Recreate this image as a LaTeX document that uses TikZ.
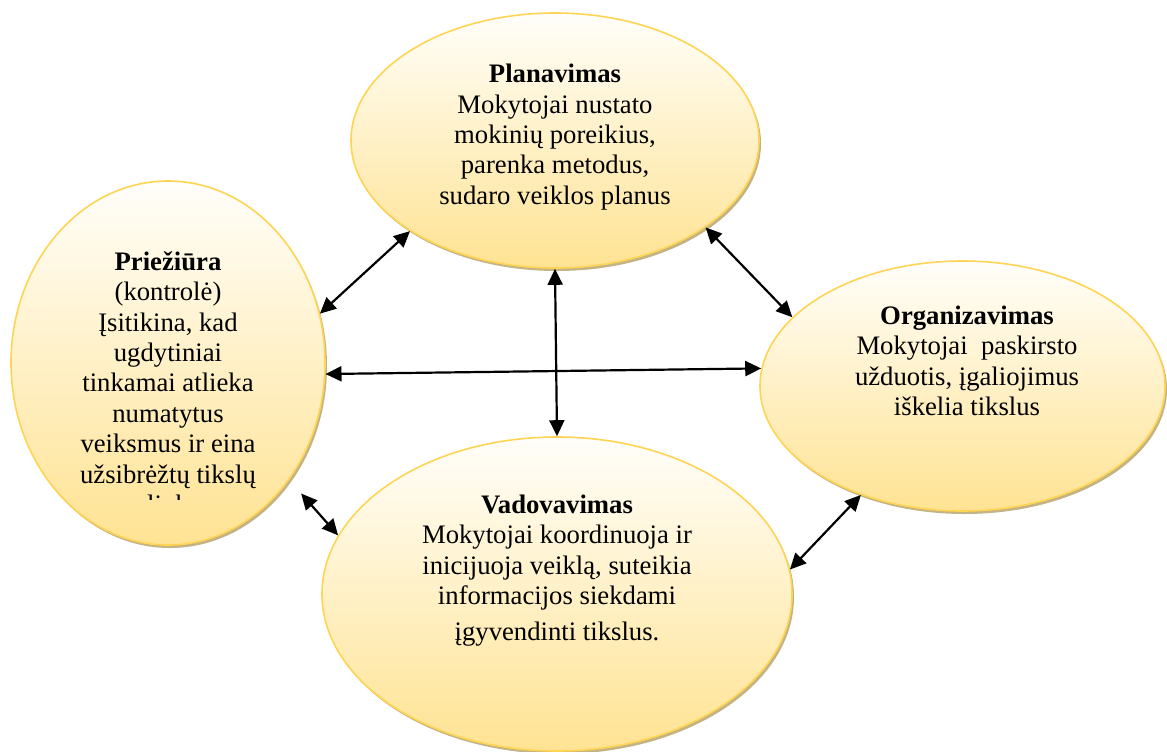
\documentclass[tikz,border=0pt]{standalone}
\usepackage{fontspec}
\setmainfont{Liberation Serif}
\usetikzlibrary{shapes.geometric,shadows,arrows.meta}
\definecolor{ytop}{HTML}{FFFEFA}
\definecolor{ybot}{HTML}{FFE393}
\definecolor{yedge}{HTML}{FFD452}
\definecolor{shad}{HTML}{C3B385}
\tikzset{
 ell/.style={ellipse, inner sep=0pt, draw=yedge, line width=0.8pt, top color=ytop, bottom color=ybot,
   drop shadow={shadow xshift=1pt, shadow yshift=-1.5pt, fill=shad, opacity=1}},
 txt/.style={align=center, font=\fontsize{13.35pt}{15.2pt}\selectfont, inner sep=0pt},
 dbl/.style={line width=1.1pt, {Triangle[length=8pt,width=7.5pt]}-{Triangle[length=8pt,width=7.5pt]}}
}
\begin{document}
\begin{tikzpicture}[x=0.5pt,y=-0.5pt]
\useasboundingbox (0,0) rectangle (1167,751);
% ellipses
\node[ell, minimum width=204pt, minimum height=127.5pt] (plan) at (555,140.5) {};
\node[ell, minimum width=157pt, minimum height=182pt] (prie) at (168,363) {};
\node[ell, minimum width=202.5pt, minimum height=125pt] (org) at (962.5,386) {};
\node[ell, minimum width=235pt, minimum height=157pt] (vad) at (557,594) {};
% texts
\node[txt] (plantxt) at (555,137) {\textbf{Planavimas}\\Mokytojai nustato\\mokinių poreikius,\\parenka metodus,\\sudaro veiklos planus};
\begin{scope}
\clip (0,0) rectangle (1167,499);
\node[txt] (prietxt) at (168,382.5) {\textbf{Priežiūra}\\(kontrolė)\\Įsitikina, kad\\ugdytiniai\\tinkamai atlieka\\numatytus\\veiksmus ir eina\\užsibrėžtų tikslų\\link};
\end{scope}
\node[txt] (orgtxt) at (967,361) {\textbf{Organizavimas}\\Mokytojai\ \ paskirsto\\užduotis, įgaliojimus\\iškelia tikslus};
\node[txt] (vadtxt) at (557,570.5) {\textbf{Vadovavimas}\\Mokytojai koordinuoja ir\\inicijuoja veiklą, suteikia\\informacijos siekdami\\[2.5pt]įgyvendinti tikslus.};
% connectors
\draw[dbl] (prie.18) -- (plan.212);
\draw[dbl] (plan.south) -- (vad.north);
\draw[dbl] (plan.330) -- (org.158);
\draw[dbl] (prie.356) -- (org.175);
\draw[dbl, shorten <=9pt] (prie.316) -- (vad.165);
\draw[dbl] (org.227) -- (vad.6);
\end{tikzpicture}
\end{document}
